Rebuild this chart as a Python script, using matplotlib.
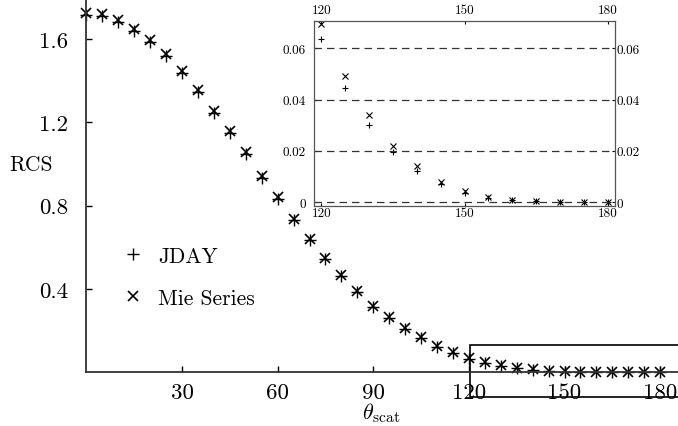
import numpy as np
import matplotlib
matplotlib.use("Agg")
import matplotlib.pyplot as plt
import matplotlib.transforms as mtransforms
from matplotlib.patches import Rectangle

# angulos de dispersion (grados) y RCS
theta = np.arange(0, 181, 5)
rcs_mie = [1.723, 1.719, 1.690, 1.647, 1.594, 1.527, 1.445, 1.354, 1.253, 1.157,
           1.056, 0.941, 0.840, 0.734, 0.638, 0.547, 0.465, 0.389, 0.317, 0.264,
           0.211, 0.168, 0.125, 0.096, 0.0694, 0.049, 0.034, 0.022, 0.014, 0.008,
           0.0045, 0.002, 0.0008, 0.0003, 0.0002, 0.0001, 0.0001]
rcs_jday = [1.715, 1.711, 1.682, 1.640, 1.587, 1.520, 1.438, 1.347, 1.246, 1.150,
            1.049, 0.935, 0.834, 0.729, 0.633, 0.543, 0.461, 0.386, 0.314, 0.261,
            0.208, 0.166, 0.123, 0.094, 0.0635, 0.0445, 0.030, 0.0195, 0.012, 0.007,
            0.0035, 0.0018, 0.0008, 0.0003, 0.0002, 0.0001, 0.0001]

ticks_x = [30, 60, 90, 120, 150, 180]
ticks_y = [0.4, 0.8, 1.2, 1.6]
ticks_x_ins = [120, 150, 180]
ticks_y_ins = [0, 0.02, 0.04, 0.06]
ticks_y_ins_lbl = ['0', '0.02', '0.04', '0.06']

plt.rcParams['font.family'] = 'cmr10'
plt.rcParams['mathtext.fontset'] = 'cm'
plt.rcParams['axes.formatter.use_mathtext'] = True

W, H = 678, 427
fig = plt.figure(figsize=(6.78, 4.27), dpi=100)
ax = fig.add_axes([86.4 / W, 1 - 373.3 / H, 1 - 86.4 / W, 373.3 / H])

ax.plot(theta, rcs_jday, '+', color='black', ms=8.5, mew=1.0, label='JDAY', clip_on=False)
ax.plot(theta, rcs_mie, 'x', color='black', ms=7.5, mew=1.2, label='Mie Series', clip_on=False)

ax.set_xlim(0, 185.6)
ax.set_ylim(0, 1.792)
ax.set_xticks(ticks_x)
ax.set_yticks(ticks_y)
ax.set_xticklabels([str(t) for t in ticks_x])
ax.set_yticklabels([str(t) for t in ticks_y])
ax.tick_params(direction='in', length=4, width=1, labelsize=16.5, colors='black')
ax.tick_params(axis='x', pad=7)
ax.tick_params(axis='y', pad=13)
ax.spines['top'].set_visible(False)
ax.spines['right'].set_visible(False)
for s in ['left', 'bottom']:
    ax.spines[s].set_linewidth(1.3)
    ax.spines[s].set_color('#333333')

# etiquetas de los ejes en coordenadas de figura
fig.text(31 / W, 1 - 165 / H, 'RCS', fontsize=15.5, ha='center', va='center')
fig.text(362 / W, 1 - 401 / H, r'$\theta_{\mathrm{scat}}$', fontsize=16, ha='left', va='top')

ax.legend(loc='center left', bbox_to_anchor=(0.025, (373.3 - 278) / 373.3), frameon=False,
          fontsize=15.5, handletextpad=0.55, labelspacing=1.05, handlelength=1.2)

rect = Rectangle((120.5, -0.12), 66, 0.25, fill=False, edgecolor='black',
                 linewidth=1.2, clip_on=False)
ax.add_patch(rect)

# recuadro con la zona 120-180
axi = fig.add_axes([314 / W, 1 - 207 / H, 301 / W, 185 / H])
axi.plot(theta, rcs_jday, '+', color='black', ms=4, mew=0.8)
axi.plot(theta, rcs_mie, 'x', color='black', ms=4, mew=0.8)
axi.set_xlim(118.5, 181.5)
axi.set_ylim(-0.0015, 0.0706)
axi.set_xticks(ticks_x_ins)
axi.set_yticks(ticks_y_ins)
axi.set_xticklabels([str(t) for t in ticks_x_ins])
axi.set_yticklabels(ticks_y_ins_lbl)
axi.tick_params(direction='in', length=2, top=True, right=True,
                labeltop=True, labelright=True, labelsize=9.5)
for t in axi.yaxis.get_major_ticks():
    t.set_pad(6)
for t in axi.xaxis.get_major_ticks():
    t.set_pad(1)
for y in ticks_y_ins:
    axi.axhline(y, color='#333333', linestyle=(0, (6, 4)), linewidth=0.9)
for s in axi.spines.values():
    s.set_linewidth(0.9)
    s.set_color('#555555')

fig.canvas.draw()
# etiquetas de la derecha pegadas al marco, las de arriba un poco mas altas
off_r = mtransforms.ScaledTranslation(-5 / 72, 0, fig.dpi_scale_trans)
off_t = mtransforms.ScaledTranslation(0, 2.5 / 72, fig.dpi_scale_trans)
for t in axi.yaxis.get_major_ticks():
    t.label2.set_transform(t.label2.get_transform() + off_r)
for t in axi.xaxis.get_major_ticks():
    t.label2.set_transform(t.label2.get_transform() + off_t)

plt.savefig('out.png', dpi=100)
